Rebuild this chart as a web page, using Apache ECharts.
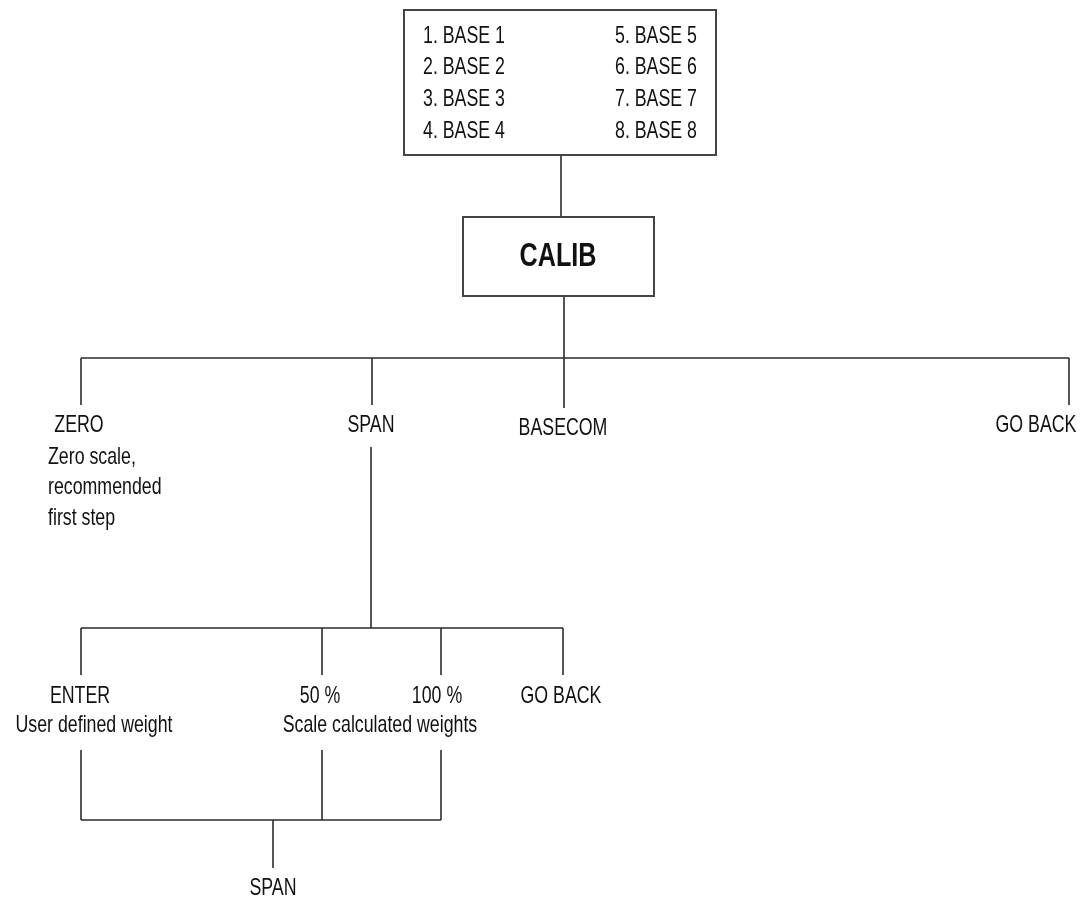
<!DOCTYPE html>
<html>
<head>
<meta charset="utf-8">
<title>CALIB menu</title>
<script src="https://cdn.jsdelivr.net/npm/echarts@6.0.0/dist/echarts.min.js"></script>
<style>
  html, body { margin: 0; padding: 0; background: #fff; }
  #chart { width: 1080px; height: 901px; }
</style>
</head>
<body>
<div id="chart"></div>
<script>
// --- menu content ---
const menuLeft = ['1. BASE 1', '2. BASE 2', '3. BASE 3', '4. BASE 4'];
const menuRight = ['5. BASE 5', '6. BASE 6', '7. BASE 7', '8. BASE 8'];
const rootLabel = 'CALIB';
const level1Labels = ['ZERO', 'SPAN', 'BASECOM', 'GO BACK'];
const zeroNote = ['Zero scale,', 'recommended', 'first step'];
const spanLabels = ['ENTER', '50 %', '100 %', 'GO BACK'];
const spanNotes = ['User defined weight', 'Scale calculated weights'];
const resultLabel = 'SPAN';

// --- layout (diagram units, same as canvas px) ---
const MENU_BOX = [404, 10, 716, 155];
const ROOT_BOX = [463, 217, 654, 296];
const MENU_COL_X = [423, 615];
const MENU_ROW_Y = [36, 67, 99, 131];
const L1_X = [81, 372, 564, 1069];
const L1_LABEL_X = [79, 371, 563, 1036];
const L1_LABEL_Y = [425, 425, 428, 425];
const L1_BUS_Y = 358;
const L1_DROP_END = [405, 405, 408, 405];
const L2_X = [81, 322, 441, 563];
const L2_LABEL_X = [80, 320, 437, 561];
const L2_BUS_Y = 628;
const L2_DROP_END = 675;
const RETURN_TOP = 750;
const RETURN_BUS_Y = 820;
const RESULT_X = 273;

const FONT = '"Liberation Sans", Arial, sans-serif';
const SQUEEZE = 0.74; // condensed look

// segments [x1, y1, x2, y2]
const segments = [];
segments.push([561, MENU_BOX[3], 561, ROOT_BOX[1]]);
segments.push([564, ROOT_BOX[3], 564, L1_BUS_Y]);
segments.push([L1_X[0], L1_BUS_Y, L1_X[3], L1_BUS_Y]);
L1_X.forEach((x, i) => segments.push([x, L1_BUS_Y, x, L1_DROP_END[i]]));
segments.push([371, 447, 371, L2_BUS_Y]);
segments.push([L2_X[0], L2_BUS_Y, L2_X[3], L2_BUS_Y]);
L2_X.forEach(x => segments.push([x, L2_BUS_Y, x, L2_DROP_END]));
L2_X.slice(0, 3).forEach(x => segments.push([x, RETURN_TOP, x, RETURN_BUS_Y]));
segments.push([L2_X[0], RETURN_BUS_Y, L2_X[2], RETURN_BUS_Y]);
segments.push([RESULT_X, RETURN_BUS_Y, RESULT_X, 868]);

// text items
const texts = [];
menuLeft.forEach((t, i) => texts.push({ x: MENU_COL_X[0], y: MENU_ROW_Y[i], text: t, align: 'left' }));
menuRight.forEach((t, i) => texts.push({ x: MENU_COL_X[1], y: MENU_ROW_Y[i], text: t, align: 'left' }));
texts.push({ x: 558, y: 257, text: rootLabel, size: 34, bold: true });
level1Labels.forEach((t, i) => texts.push({ x: L1_LABEL_X[i], y: L1_LABEL_Y[i], text: t }));
zeroNote.forEach((t, i) => texts.push({ x: 48, y: 457 + i * 30.5, text: t, align: 'left' }));
spanLabels.forEach((t, i) => texts.push({ x: L2_LABEL_X[i], y: 696, text: t }));
texts.push({ x: 94, y: 725, text: spanNotes[0] });
texts.push({ x: 380, y: 725, text: spanNotes[1] });
texts.push({ x: RESULT_X, y: 888, text: resultLabel });

const boxes = [MENU_BOX, ROOT_BOX];

const chart = echarts.init(document.getElementById('chart'), null, { renderer: 'canvas' });

chart.setOption({
  animation: false,
  backgroundColor: '#ffffff',
  grid: { left: 0, right: 0, top: 0, bottom: 0 },
  xAxis: { type: 'value', min: 0, max: 1080, show: false },
  yAxis: { type: 'value', min: 0, max: 901, inverse: true, show: false },
  series: [
    {
      type: 'lines',
      coordinateSystem: 'cartesian2d',
      silent: true,
      lineStyle: { color: '#2b2b2b', width: 1.6, opacity: 1, curveness: 0 },
      data: segments.map(s => ({ coords: [[s[0], s[1]], [s[2], s[3]]] }))
    },
    {
      type: 'custom',
      silent: true,
      clip: false,
      data: boxes.map(b => [b[0], b[1], b[2], b[3]]),
      renderItem: (params, api) => {
        const p1 = api.coord([api.value(0), api.value(1)]);
        const p2 = api.coord([api.value(2), api.value(3)]);
        return {
          type: 'rect',
          shape: { x: p1[0], y: p1[1], width: p2[0] - p1[0], height: p2[1] - p1[1] },
          style: { fill: '#ffffff', stroke: '#444444', lineWidth: 2 }
        };
      }
    },
    {
      type: 'custom',
      silent: true,
      clip: false,
      z: 5,
      data: texts.map(t => [t.x, t.y]),
      renderItem: (params, api) => {
        const t = texts[params.dataIndex];
        const p = api.coord([api.value(0), api.value(1)]);
        return {
          type: 'group',
          x: p[0],
          y: p[1],
          scaleX: SQUEEZE,
          children: [{
            type: 'text',
            style: {
              text: t.text,
              x: 0,
              y: 0,
              fill: '#111111',
              fontFamily: FONT,
              fontSize: t.size || 24,
              fontWeight: t.bold ? 'bold' : 'normal',
              align: t.align || 'center',
              verticalAlign: 'middle'
            }
          }]
        };
      }
    }
  ]
});
</script>
</body>
</html>
